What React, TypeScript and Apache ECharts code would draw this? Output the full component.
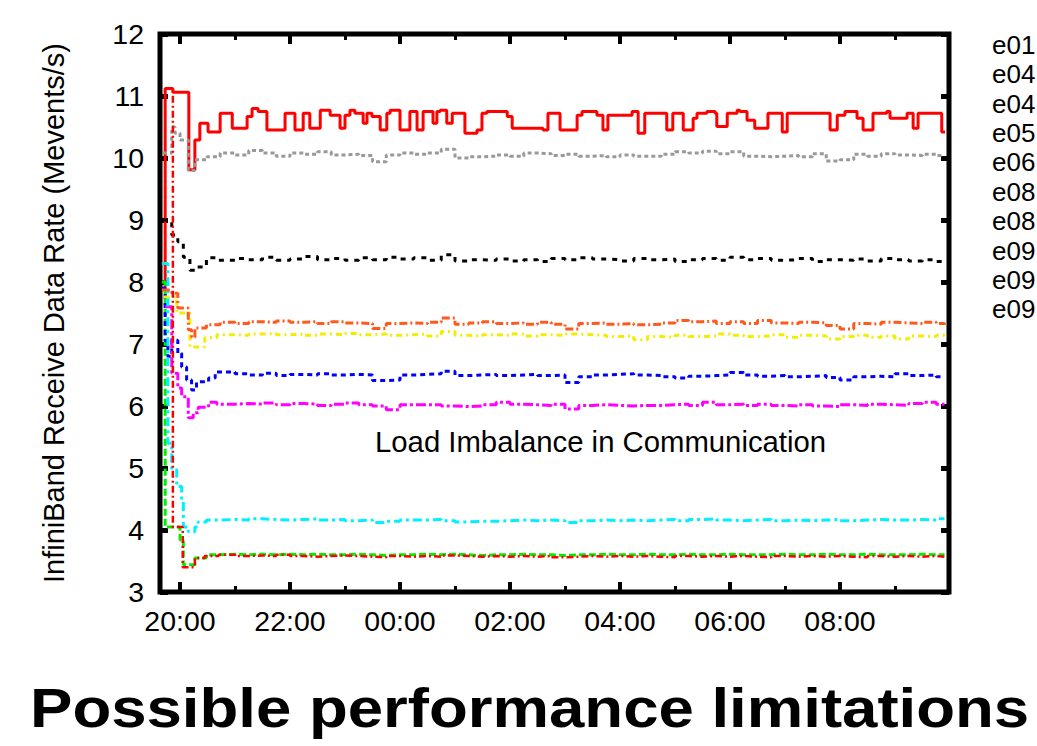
import React, { useEffect, useRef } from "react";
import * as echarts from "echarts";

const FONT = '"Liberation Sans", Arial, Helvetica, sans-serif';

// Time axis: hours relative to 20:00
const X_MIN = -0.364;
const X_MAX = 13.982;
const Y_MIN = 3;
const Y_MAX = 12;

const Y_TITLE = "InfiniBand Receive Data Rate (Mevents/s)";
const ANNOTATION = "Load Imbalance in Communication";
const HEADLINE = "Possible performance limitations";

// legend names (the picture shows only the first three characters)
const NAMES = ["e01", "e04a", "e04b", "e05", "e06", "e08a", "e08b", "e09a", "e09b", "e09c"];

// shared sampling hours for the steady part of every run
const GRID_HOURS = [
  1, 1.25, 1.5, 1.75, 2, 2.25, 2.5, 2.75, 3, 3.25, 3.5, 3.75, 4, 4.25, 4.5, 4.75,
  5, 5.25, 5.5, 5.75, 6, 6.25, 6.5, 6.75, 7, 7.25, 7.5, 7.75, 8, 8.25, 8.5, 8.75,
  9, 9.25, 9.5, 9.75, 10, 10.25, 10.5, 10.75, 11, 11.25, 11.5, 11.75, 12, 12.25,
  12.5, 12.75, 13, 13.25, 13.5, 13.75, 13.9,
];

// e01 : red solid, given as change points [hour, value]
const RED_TOP: [number, number][] = [
  [-0.33, 7.9], [-0.27, 11.12], [-0.13, 11.06], [0.16, 9.81], [0.27, 10.29], [0.36, 10.56],
  [0.51, 10.42], [0.73, 10.72], [0.95, 10.48], [1.22, 10.67], [1.31, 10.8], [1.42, 10.75],
  [1.58, 10.45], [1.91, 10.72], [2.09, 10.45], [2.24, 10.72], [2.36, 10.48], [2.55, 10.77],
  [2.73, 10.69], [2.91, 10.48], [3.0, 10.69], [3.09, 10.77], [3.18, 10.72], [3.33, 10.56],
  [3.4, 10.72], [3.49, 10.67], [3.64, 10.45], [3.76, 10.72], [3.82, 10.77], [4.0, 10.45],
  [4.18, 10.75], [4.31, 10.45], [4.42, 10.75], [4.6, 10.56], [4.67, 10.75], [4.73, 10.77],
  [4.85, 10.56], [4.95, 10.72], [5.18, 10.4], [5.4, 10.45], [5.49, 10.72], [5.58, 10.75],
  [5.95, 10.67], [6.04, 10.48], [6.6, 10.45], [6.69, 10.72], [6.91, 10.45], [7.22, 10.69],
  [7.31, 10.75], [7.58, 10.69], [7.69, 10.45], [7.78, 10.69], [8.22, 10.75], [8.33, 10.4],
  [8.45, 10.72], [8.85, 10.45], [8.96, 10.72], [9.15, 10.45], [9.33, 10.64], [9.4, 10.72],
  [9.58, 10.75], [9.73, 10.72], [9.76, 10.51], [9.95, 10.72], [10.13, 10.77], [10.18, 10.75],
  [10.31, 10.61], [10.45, 10.48], [10.69, 10.72], [10.95, 10.42], [11.04, 10.72], [11.82, 10.45],
  [11.95, 10.69], [12.09, 10.75], [12.31, 10.64], [12.42, 10.45], [12.6, 10.72], [12.85, 10.75],
  [12.91, 10.64], [13.22, 10.72], [13.33, 10.48], [13.42, 10.72], [13.85, 10.42], [13.91, 10.42],
];

// start-up transients [hour, value]
const GREEN_START: [number, number][] = [[-0.33, 8.0], [-0.27, 4.05], [0, 3.84], [0.06, 3.44], [0.27, 3.55], [0.48, 3.6], [0.7, 3.61]];
const BLUE_START: [number, number][] = [[-0.33, 7.9], [-0.27, 7.05], [-0.22, 6.8], [-0.15, 7.06], [-0.04, 6.85], [0.03, 6.63], [0.12, 6.42], [0.21, 6.26], [0.3, 6.39], [0.52, 6.45], [0.64, 6.55]];
const MAGENTA_START: [number, number][] = [[-0.27, 7.6], [-0.15, 6.53], [-0.04, 6.29], [0.03, 6.15], [0.15, 5.81], [0.24, 5.89], [0.33, 5.98], [0.52, 6.06], [0.67, 6.03]];
const CYAN_START: [number, number][] = [[-0.33, 8.3], [-0.22, 5.4], [-0.15, 4.97], [-0.06, 4.7], [0.03, 4.48], [0.06, 4.05], [0.15, 3.97], [0.27, 4.05], [0.33, 4.13], [0.48, 4.16], [0.7, 4.17]];
const YELLOW_START: [number, number][] = [[-0.3, 7.76], [-0.06, 7.5], [0.18, 6.95], [0.45, 7.1], [0.67, 7.15]];
const BLACK_START: [number, number][] = [[-0.31, 9.0], [-0.15, 8.76], [-0.04, 8.65], [0.06, 8.4], [0.18, 8.19], [0.27, 8.24], [0.48, 8.39], [0.67, 8.35]];
const ORANGE_START: [number, number][] = [[-0.33, 7.87], [-0.15, 7.82], [-0.04, 7.58], [0.15, 7.23], [0.21, 7.11], [0.27, 7.26], [0.48, 7.31], [0.73, 7.35]];
const GRAY_START: [number, number][] = [[-0.31, 10.08], [-0.15, 10.5], [-0.09, 10.4], [0, 10.29], [0.15, 9.8], [0.27, 9.97], [0.49, 10.02], [0.73, 10.08]];
const RED_LOW_START: [number, number][] = [[-0.27, 11.12], [-0.13, 4.05], [0.05, 3.4], [0.27, 3.55], [0.45, 3.58], [0.7, 3.6]];

// steady values on GRID_HOURS
const GREEN = [3.6, 3.61, 3.6, 3.61, 3.6, 3.61, 3.6, 3.6, 3.61, 3.6, 3.59, 3.6, 3.6, 3.61, 3.6, 3.61, 3.6, 3.59, 3.6, 3.6, 3.61, 3.6, 3.6, 3.59, 3.6, 3.6, 3.61, 3.6, 3.6, 3.61, 3.6, 3.6, 3.61, 3.6, 3.6, 3.61, 3.6, 3.6, 3.6, 3.61, 3.6, 3.6, 3.61, 3.6, 3.6, 3.61, 3.6, 3.6, 3.6, 3.61, 3.6, 3.6, 3.59];
const BLUE = [6.52, 6.5, 6.53, 6.49, 6.51, 6.5, 6.52, 6.5, 6.51, 6.5, 6.41, 6.42, 6.5, 6.51, 6.52, 6.56, 6.49, 6.5, 6.51, 6.49, 6.5, 6.51, 6.49, 6.5, 6.38, 6.47, 6.5, 6.51, 6.52, 6.5, 6.49, 6.47, 6.45, 6.48, 6.49, 6.5, 6.54, 6.5, 6.48, 6.49, 6.47, 6.48, 6.49, 6.46, 6.42, 6.47, 6.48, 6.47, 6.52, 6.49, 6.5, 6.47, 6.46];
const MAGENTA = [6.04, 6.03, 6.05, 6.02, 6.04, 6.03, 6.01, 6.03, 6.05, 6.02, 6.0, 5.94, 6.02, 6.02, 6.02, 6.0, 5.99, 6.0, 6.02, 6.06, 6.03, 6.02, 6.01, 6.03, 5.95, 6.01, 6.02, 6.01, 6.0, 6.01, 6.01, 6.02, 6.03, 6.01, 6.06, 6.02, 6.03, 6.01, 6.03, 6.01, 6.0, 6.02, 6.0, 5.99, 6.02, 6.01, 6.03, 6.02, 6.01, 6.04, 6.06, 6.03, 6.02];
const CYAN = [4.16, 4.18, 4.17, 4.16, 4.17, 4.18, 4.16, 4.17, 4.15, 4.16, 4.12, 4.14, 4.16, 4.16, 4.17, 4.15, 4.13, 4.14, 4.14, 4.15, 4.16, 4.15, 4.16, 4.15, 4.12, 4.15, 4.16, 4.15, 4.16, 4.15, 4.16, 4.17, 4.15, 4.17, 4.18, 4.16, 4.15, 4.16, 4.17, 4.15, 4.16, 4.15, 4.16, 4.17, 4.15, 4.16, 4.17, 4.16, 4.16, 4.17, 4.16, 4.18, 4.17];
const YELLOW = [7.14, 7.16, 7.17, 7.15, 7.16, 7.14, 7.16, 7.15, 7.17, 7.15, 7.16, 7.14, 7.15, 7.16, 7.13, 7.2, 7.14, 7.13, 7.15, 7.14, 7.16, 7.13, 7.15, 7.14, 7.16, 7.15, 7.14, 7.12, 7.13, 7.07, 7.12, 7.11, 7.14, 7.12, 7.13, 7.16, 7.14, 7.12, 7.13, 7.15, 7.11, 7.14, 7.13, 7.08, 7.12, 7.14, 7.11, 7.13, 7.08, 7.13, 7.12, 7.14, 7.12];
const BLACK = [8.38, 8.36, 8.4, 8.35, 8.37, 8.41, 8.36, 8.38, 8.35, 8.39, 8.36, 8.4, 8.37, 8.39, 8.35, 8.44, 8.34, 8.36, 8.35, 8.37, 8.34, 8.36, 8.33, 8.38, 8.36, 8.39, 8.37, 8.36, 8.34, 8.38, 8.36, 8.37, 8.33, 8.36, 8.38, 8.35, 8.4, 8.36, 8.38, 8.35, 8.36, 8.38, 8.33, 8.36, 8.35, 8.37, 8.34, 8.38, 8.36, 8.34, 8.36, 8.33, 8.34];
const ORANGE = [7.33, 7.36, 7.35, 7.37, 7.35, 7.36, 7.33, 7.36, 7.34, 7.33, 7.25, 7.33, 7.34, 7.33, 7.35, 7.42, 7.32, 7.34, 7.36, 7.33, 7.34, 7.32, 7.35, 7.32, 7.24, 7.33, 7.34, 7.32, 7.33, 7.31, 7.32, 7.34, 7.38, 7.36, 7.37, 7.33, 7.36, 7.33, 7.38, 7.34, 7.33, 7.35, 7.34, 7.3, 7.24, 7.33, 7.32, 7.35, 7.34, 7.33, 7.35, 7.33, 7.31];
const GRAY = [10.05, 10.12, 10.08, 10.03, 10.08, 10.06, 10.1, 10.05, 10.06, 10.04, 9.94, 10.05, 10.08, 10.06, 10.08, 10.14, 10.0, 10.02, 10.03, 10.05, 10.03, 10.08, 10.07, 10.04, 10.06, 10.03, 10.04, 10.02, 10.05, 10.03, 10.03, 10.06, 10.1, 10.08, 10.11, 10.07, 10.1, 10.03, 10.02, 10.03, 10.04, 10.02, 10.07, 9.95, 9.97, 10.06, 10.03, 10.07, 10.05, 10.04, 10.06, 10.04, 10.03];
const RED_LOW = [3.58, 3.59, 3.58, 3.6, 3.58, 3.57, 3.58, 3.59, 3.58, 3.57, 3.56, 3.58, 3.57, 3.58, 3.57, 3.59, 3.58, 3.57, 3.58, 3.57, 3.58, 3.57, 3.58, 3.56, 3.57, 3.58, 3.57, 3.58, 3.57, 3.58, 3.57, 3.56, 3.58, 3.57, 3.58, 3.57, 3.58, 3.57, 3.56, 3.58, 3.57, 3.58, 3.57, 3.58, 3.57, 3.56, 3.58, 3.57, 3.58, 3.57, 3.58, 3.57, 3.56];

function joinRun(start: [number, number][], steady: number[]): [number, number][] {
  return start.concat(GRID_HOURS.map((h, i) => [h, steady[i]] as [number, number]));
}

type Style = { color: string; width: number; dash: number[] | "solid" };
const STYLES: Style[] = [
  { color: "#ff0000", width: 3, dash: "solid" },
  { color: "#00ee00", width: 3, dash: [7, 3] },
  { color: "#0000ff", width: 3, dash: [5, 4] },
  { color: "#ff00ff", width: 3, dash: [10, 3, 3, 3] },
  { color: "#00f0ff", width: 3, dash: [9, 4, 3, 4] },
  { color: "#f2ee00", width: 3, dash: [6, 4, 2, 4] },
  { color: "#000000", width: 3, dash: [5, 6] },
  { color: "#ff5a1e", width: 3, dash: [8, 3, 2, 3] },
  { color: "#999999", width: 3, dash: [4, 3] },
  { color: "#ff0000", width: 2.5, dash: [7, 3, 2, 3] },
];

export default function App() {
  const ref = useRef<HTMLDivElement>(null);
  useEffect(() => {
    if (!ref.current) return;
    const chart = echarts.init(ref.current, null, { renderer: "svg" });
    const runs = [
      RED_TOP,
      joinRun(GREEN_START, GREEN),
      joinRun(BLUE_START, BLUE),
      joinRun(MAGENTA_START, MAGENTA),
      joinRun(CYAN_START, CYAN),
      joinRun(YELLOW_START, YELLOW),
      joinRun(BLACK_START, BLACK),
      joinRun(ORANGE_START, ORANGE),
      joinRun(GRAY_START, GRAY),
      joinRun(RED_LOW_START, RED_LOW),
    ];
    const hourLabel = (v: number) => {
      const hh = (((20 + Math.round(v)) % 24) + 24) % 24;
      return (hh < 10 ? "0" : "") + hh + ":00";
    };
    const xCommon = {
      type: "value" as const,
      min: X_MIN,
      max: X_MAX,
      splitNumber: 7,
      minInterval: 2,
      maxInterval: 2,
      axisLine: { show: false, onZero: false },
      splitLine: { show: false },
      axisTick: { show: true, inside: true, length: 10, lineStyle: { color: "#000", width: 4 } },
      minorTick: { show: true, splitNumber: 2, length: 6, lineStyle: { color: "#000", width: 3 } },
    };
    const yCommon = {
      type: "value" as const,
      min: Y_MIN,
      max: Y_MAX,
      interval: 1,
      axisLine: { show: false, onZero: false },
      splitLine: { show: false },
      axisTick: { show: true, inside: true, length: 8, lineStyle: { color: "#000", width: 5 } },
    };
    chart.setOption({
      animation: false,
      backgroundColor: "#ffffff",
      grid: {
        left: 160,
        top: 34,
        width: 789,
        height: 558,
        show: true,
        borderWidth: 5,
        borderColor: "#000",
        backgroundColor: "transparent",
      },
      legend: {
        orient: "vertical",
        left: 987,
        top: 30,
        padding: 0,
        icon: "none",
        itemWidth: 0,
        itemHeight: 10,
        itemGap: 0,
        selectedMode: false,
        formatter: (n: string) => n.slice(0, 3),
        textStyle: { fontFamily: FONT, fontSize: 26, lineHeight: 29.4, color: "#000" },
        data: NAMES,
      },
      xAxis: [
        {
          ...xCommon,
          position: "bottom",
          axisLabel: {
            show: true,
            margin: 14,
            fontSize: 28.5,
            fontFamily: FONT,
            color: "#000",
            showMinLabel: false,
            showMaxLabel: false,
            formatter: hourLabel,
          },
        },
        { ...xCommon, position: "top", axisLabel: { show: false } },
      ],
      yAxis: [
        {
          ...yCommon,
          position: "left",
          name: Y_TITLE,
          nameLocation: "middle",
          nameGap: 92,
          nameRotate: 90,
          nameTextStyle: { fontFamily: FONT, fontSize: 29, color: "#000" },
          axisLabel: { show: true, margin: 16, fontSize: 28.5, fontFamily: FONT, color: "#000" },
        },
        { ...yCommon, position: "right", axisLabel: { show: false } },
      ],
      graphic: [
        {
          type: "text",
          x: 375,
          y: 441,
          style: {
            text: ANNOTATION,
            fontFamily: FONT,
            fontSize: 29.3,
            fill: "#000",
            align: "left",
            verticalAlign: "middle",
            textAlign: "left",
            textVerticalAlign: "middle",
          },
        },
        {
          type: "text",
          x: 30,
          y: 708,
          scaleX: 1.135,
          style: {
            text: HEADLINE,
            fontFamily: FONT,
            fontWeight: "bold",
            fontSize: 56,
            fill: "#000",
            align: "left",
            verticalAlign: "middle",
            textAlign: "left",
            textVerticalAlign: "middle",
          },
        },
      ],
      series: runs.map((data, i) => ({
        name: NAMES[i],
        type: "line",
        step: "end",
        data,
        showSymbol: false,
        symbol: "none",
        clip: true,
        lineStyle: { color: STYLES[i].color, width: STYLES[i].width, type: STYLES[i].dash },
        itemStyle: { color: STYLES[i].color },
        emphasis: { disabled: true },
      })),
    });
    return () => chart.dispose();
  }, []);
  return (
    <div
      ref={ref}
      style={{ position: "absolute", left: 0, top: 0, width: 1037, height: 746, background: "#fff" }}
    />
  );
}
